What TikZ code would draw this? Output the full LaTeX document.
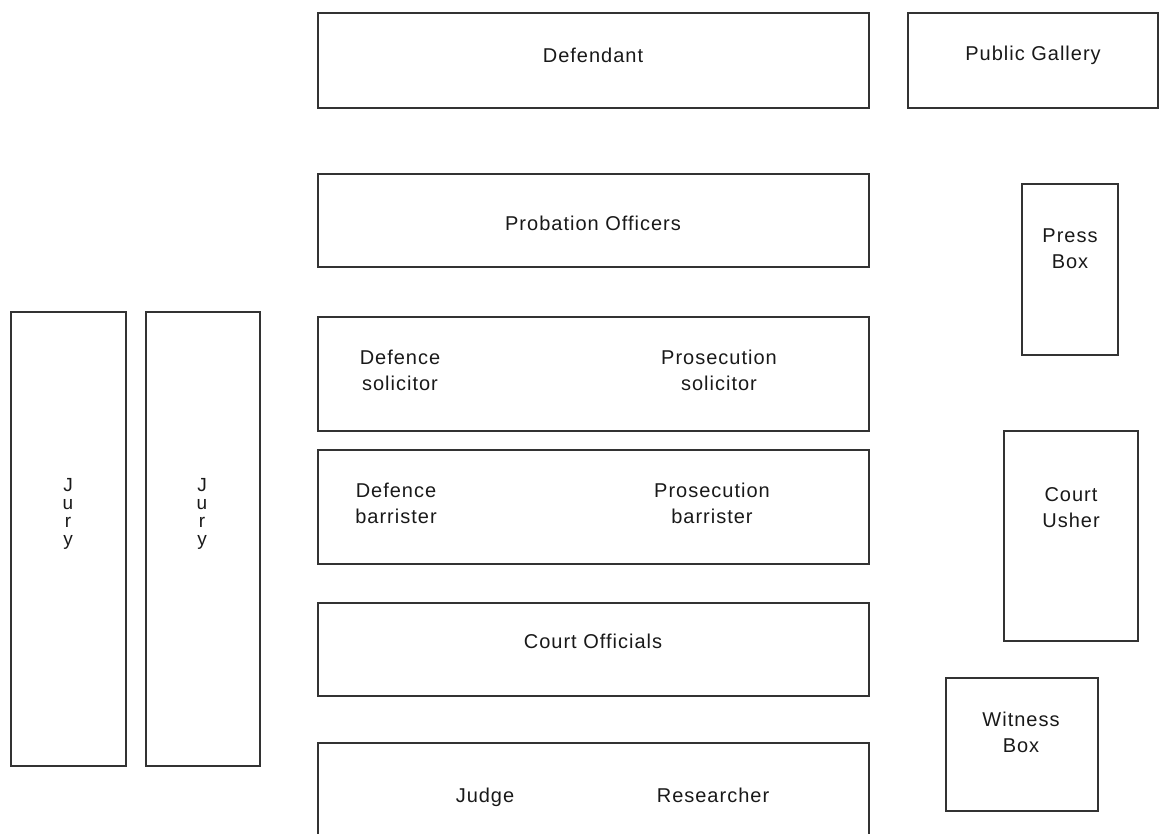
\documentclass[tikz,border=0pt]{standalone}
\usepackage{fontspec}
\setmainfont{Liberation Sans}[LetterSpace=5.0]
\begin{document}
\begin{tikzpicture}[x=1pt,y=-1pt,
  box/.style={draw=black!80, line width=1.3pt, inner sep=0pt, outer sep=0pt, anchor=north west},
  lbl/.style={align=center, inner sep=0pt, font=\fontsize{20}{26}\selectfont, text=black!90},
  jurylbl/.style={align=center, inner sep=0pt, font=\fontsize{19}{18}\selectfont, text=black!90}]
\useasboundingbox (0,0) rectangle (1165,833);
\clip (0,0) rectangle (1165,833);
% boxes
\node[box, minimum width=551, minimum height=95] (def) at (318,13) {};
\node[box, minimum width=250, minimum height=95] (pub) at (908,13) {};
\node[box, minimum width=551, minimum height=93] (prob) at (318,174) {};
\node[box, minimum width=96, minimum height=171] (press) at (1022,184) {};
\node[box, minimum width=115, minimum height=454] (jury1) at (11,312) {};
\node[box, minimum width=114, minimum height=454] (jury2) at (146,312) {};
\node[box, minimum width=551, minimum height=114] (sol) at (318,317) {};
\node[box, minimum width=551, minimum height=114] (bar) at (318,450) {};
\node[box, minimum width=134, minimum height=210] (usher) at (1004,431) {};
\node[box, minimum width=551, minimum height=93] (off) at (318,603) {};
\node[box, minimum width=152, minimum height=133] (wit) at (946,678) {};
\node[box, minimum width=551, minimum height=120] (judge) at (318,743) {};
% labels
\node[lbl] (tdef) at (593,55) {Defendant};
\node[lbl] (tpub) at (1033,55) {Public Gallery};
\node[lbl] (tprob) at (593,223) {Probation Officers};
\node[lbl] (tpress) at (1070,249) {Press\\Box};
\node[jurylbl] (tjury1) at (68,514) {J\\u\\r\\y};
\node[jurylbl] (tjury2) at (202,514) {J\\u\\r\\y};
\node[lbl] (tdsol) at (400,370) {Defence\\solicitor};
\node[lbl] (tpsol) at (719,370) {Prosecution\\solicitor};
\node[lbl] (tdbar) at (396,503) {Defence\\barrister};
\node[lbl] (tpbar) at (712,503) {Prosecution\\barrister};
\node[lbl] (tusher) at (1071,508) {Court\\Usher};
\node[lbl] (toff) at (593,641) {Court Officials};
\node[lbl] (twit) at (1021,732) {Witness\\Box};
\node[lbl, anchor=base] (tjudge) at (485,802) {Judge};
\node[lbl, anchor=base] (tres) at (713,802) {Researcher};
\end{tikzpicture}
\end{document}
